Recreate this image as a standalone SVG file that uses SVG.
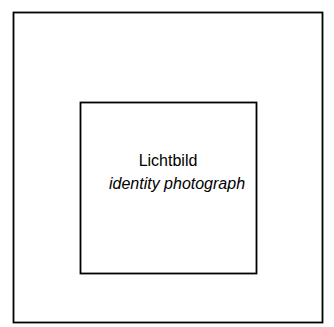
<svg xmlns="http://www.w3.org/2000/svg" width="334" height="327" viewBox="0 0 334 327">
<style>
.box{fill:#fff;stroke:#000;stroke-width:1.8}
.t{font-family:"Liberation Sans",Arial,sans-serif;font-size:16px;fill:#000;text-anchor:middle}
</style>
<rect width="334" height="327" fill="#fff"/>
<g id="frame"><rect class="box" x="13.5" y="12.5" width="309" height="310"/></g>
<g id="photo">
<rect class="box" x="80.5" y="102.5" width="176" height="171"/>
<text class="t" x="168" y="166">Lichtbild</text>
<text class="t" x="177" y="189" font-style="italic">identity photograph</text>
</g>
<g id="connectors"/>
</svg>
